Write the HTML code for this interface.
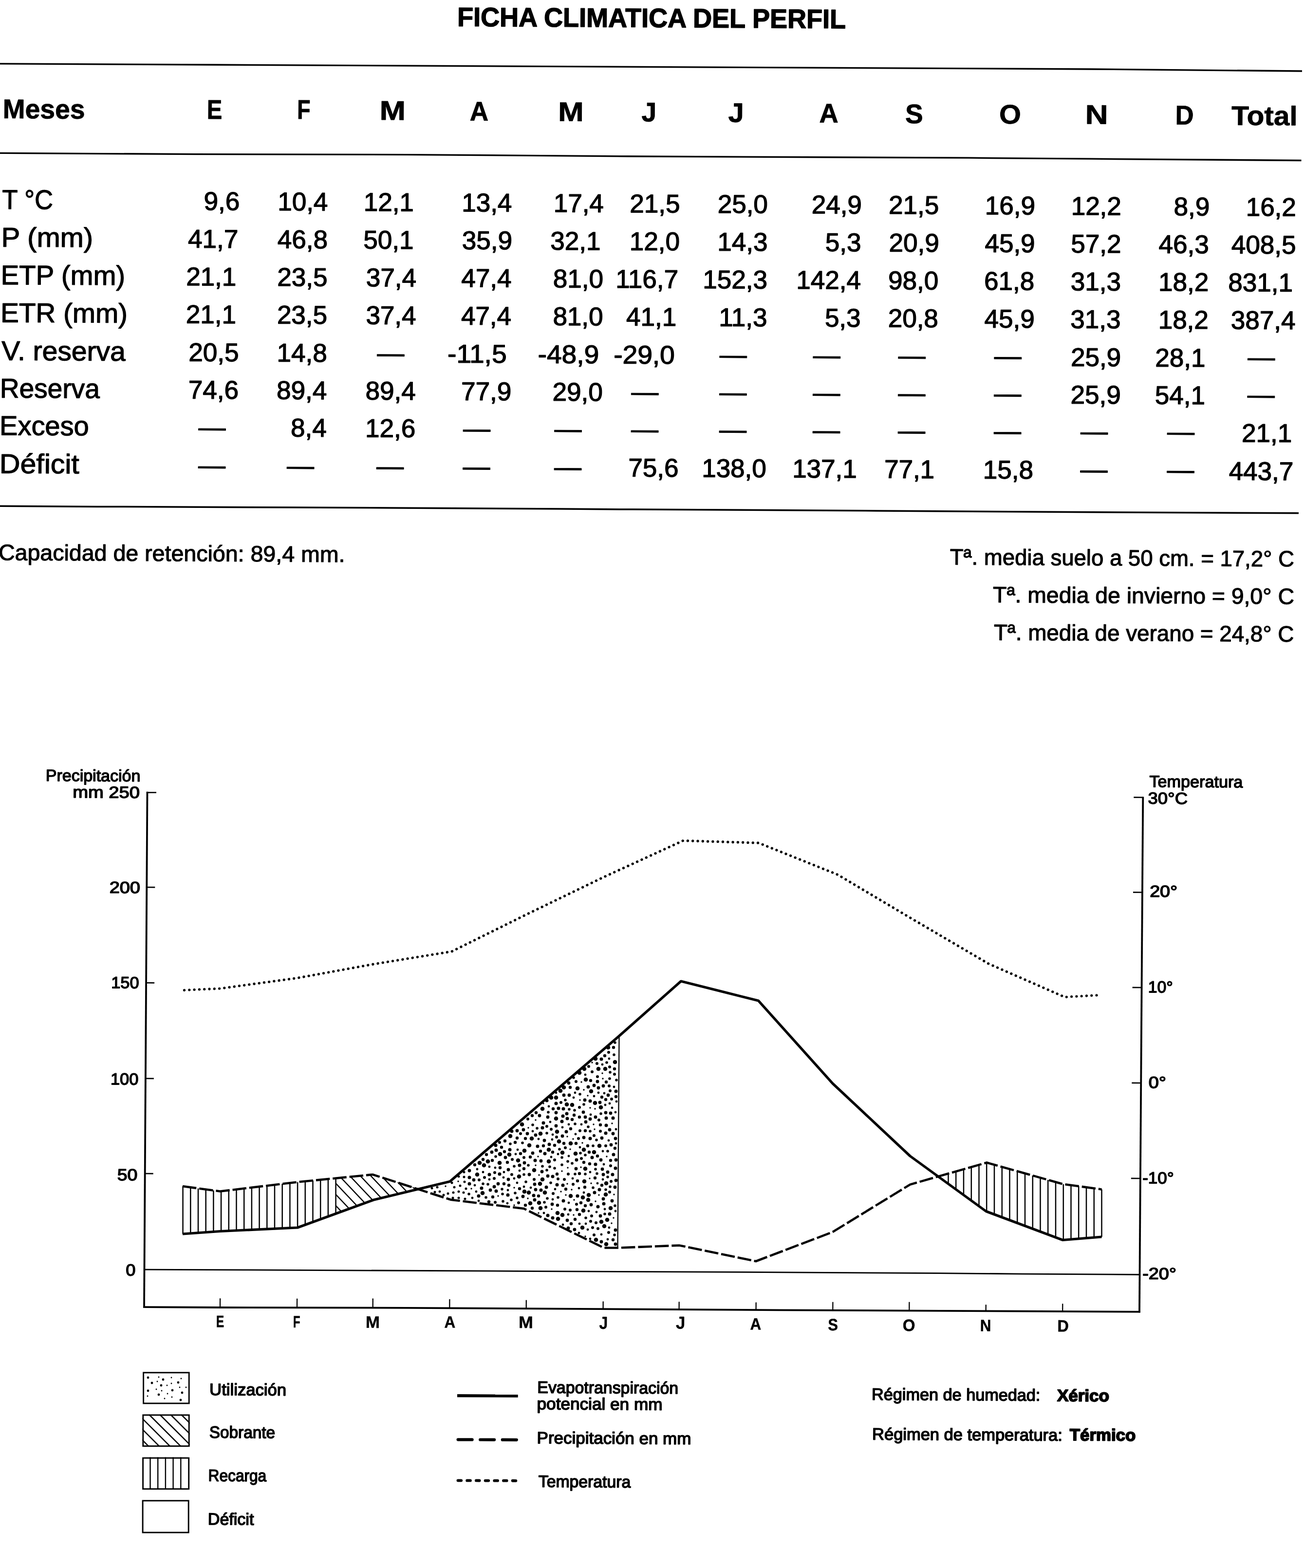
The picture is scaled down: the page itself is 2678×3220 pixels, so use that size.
<!DOCTYPE html>
<html lang="es">
<head>
<meta charset="utf-8">
<title>Ficha climática del perfil</title>
<style>
html,body{margin:0;padding:0;background:#fff;}
body{width:2678px;height:3220px;overflow:hidden;}
svg{display:block;}
text{font-family:"Liberation Sans", sans-serif;fill:#000;white-space:pre;}
.ink{stroke:#000;}
</style>
</head>
<body>
<svg width="2678" height="3220" viewBox="0 0 2678 3220">
<rect width="2678" height="3220" fill="#fff"/>
<g class="ink">
<polyline points="-2.0,130.8 437.0,133.0 2241.0,142.0 2674.0,146.0" stroke-width="3.3" fill="none"/>
<polyline points="-2.0,314.3 400.0,316.6 837.0,317.6 1290.0,321.0 1990.0,324.2 2241.0,326.2 2672.5,329.5" stroke-width="3.3" fill="none"/>
<polyline points="-2.0,1039.2 200.0,1040.4 600.0,1042.0 800.0,1042.9 1150.0,1045.0 1300.0,1046.1 1800.0,1048.9 2241.0,1051.8 2667.0,1053.8" stroke-width="3.5" fill="none"/>
<line x1="302.5" y1="1625.8" x2="296.0" y2="2686.0" stroke-width="3.8"/>
<line x1="301.5" y1="1627.5" x2="321.0" y2="1627.5" stroke-width="2.6"/>
<line x1="301.3" y1="1822.0" x2="318.3" y2="1822.1" stroke-width="2.6"/>
<line x1="300.1" y1="2018.3" x2="317.1" y2="2018.4" stroke-width="2.6"/>
<line x1="298.9" y1="2214.8" x2="315.9" y2="2214.9" stroke-width="2.6"/>
<line x1="297.7" y1="2410.0" x2="314.7" y2="2410.1" stroke-width="2.6"/>
<polyline points="296.0,2607.2 500.0,2607.8 1100.0,2610.6 1400.0,2611.8 1924.0,2614.6 2100.0,2616.1 2340.0,2617.5" stroke-width="2.8" fill="none"/>
<polyline points="294.3,2684.2 452.0,2685.0 837.0,2685.8 1600.0,2690.3 2341.8,2693.8" stroke-width="3.8" fill="none"/>
<line x1="2347.3" y1="1636.2" x2="2340.0" y2="2695.6" stroke-width="3.8"/>
<line x1="2328.3" y1="1637.4" x2="2347.3" y2="1637.5" stroke-width="2.6"/>
<line x1="2327.0" y1="1832.4" x2="2346.0" y2="1832.5" stroke-width="2.6"/>
<line x1="2325.6" y1="2027.9" x2="2344.6" y2="2028.0" stroke-width="2.6"/>
<line x1="2324.3" y1="2223.9" x2="2343.3" y2="2224.0" stroke-width="2.6"/>
<line x1="2322.9" y1="2419.9" x2="2341.9" y2="2420.0" stroke-width="2.6"/>
<line x1="452.1" y1="2666.3" x2="452.0" y2="2685.0" stroke-width="2.3"/>
<line x1="610.1" y1="2666.8" x2="610.0" y2="2685.3" stroke-width="2.3"/>
<line x1="765.8" y1="2666.5" x2="765.7" y2="2685.7" stroke-width="2.3"/>
<line x1="923.4" y1="2668.0" x2="923.3" y2="2686.3" stroke-width="2.3"/>
<line x1="1080.8" y1="2669.7" x2="1080.7" y2="2687.2" stroke-width="2.3"/>
<line x1="1238.7" y1="2672.5" x2="1238.6" y2="2688.2" stroke-width="2.3"/>
<line x1="1394.7" y1="2673.3" x2="1394.6" y2="2689.1" stroke-width="2.3"/>
<line x1="1552.7" y1="2674.6" x2="1552.6" y2="2690.0" stroke-width="2.3"/>
<line x1="1710.4" y1="2673.8" x2="1710.3" y2="2690.8" stroke-width="2.3"/>
<line x1="1867.4" y1="2673.8" x2="1867.3" y2="2691.6" stroke-width="2.3"/>
<line x1="2024.8" y1="2679.2" x2="2024.7" y2="2692.3" stroke-width="2.3"/>
<line x1="2182.3" y1="2677.2" x2="2182.2" y2="2693.1" stroke-width="2.3"/>
<path d="M375.6 2436.1V2534.0M391.3 2438.2V2532.8M407.0 2440.4V2531.7M422.7 2442.5V2530.6M438.4 2444.6V2529.5M454.1 2446.2V2528.4M469.8 2444.4V2527.7M485.5 2442.5V2526.9M501.2 2440.6V2526.2M516.9 2438.7V2525.4M532.6 2436.8V2524.7M548.3 2434.9V2524.0M564.0 2433.0V2523.2M579.7 2431.1V2522.5M595.4 2429.3V2521.7M611.1 2427.4V2521.0M626.8 2425.8V2515.2M642.5 2424.3V2509.5M658.2 2422.7V2503.8M673.9 2421.1V2498.1M689.6 2419.6V2492.4" stroke-width="2.5" fill="none"/>
<path d="M1947.5 2410.1V2431.1M1963.2 2405.6V2442.6M1979.0 2401.1V2454.0M1994.8 2396.6V2465.5M2010.5 2392.1V2477.0M2026.2 2387.6V2488.0M2042.0 2391.9V2493.9M2057.8 2396.3V2499.8M2073.5 2400.8V2505.7M2089.2 2405.2V2511.6M2105.0 2409.6V2517.5M2120.8 2414.1V2523.4M2136.5 2418.5V2529.3M2152.2 2423.0V2535.2M2168.0 2427.4V2541.1M2183.8 2431.7V2546.4M2199.5 2433.8V2545.1M2215.2 2436.0V2543.8M2231.0 2438.2V2542.6M2246.8 2440.3V2541.3M2262.5 2442.5V2540.0" stroke-width="2.5" fill="none"/>
<clipPath id="sob"><polygon points="689.5,2419.6 765.5,2412.0 861.0,2442.0 767.5,2464.0 689.5,2492.4"/></clipPath>
<path clip-path="url(#sob)" d="M577.6 2380l110 116.6M599.2 2380l110 116.6M620.8 2380l110 116.6M642.4 2380l110 116.6M664.0 2380l110 116.6M685.6 2380l110 116.6M707.2 2380l110 116.6M728.8 2380l110 116.6M750.4 2380l110 116.6M772.0 2380l110 116.6M793.6 2380l110 116.6" stroke-width="2.4" fill="none"/>
<path d="M915 2436h0M1191 2259h0M1238 2215h0M1219 2309h0M1199 2238h0M1171 2360h0M968 2441h0M1177 2339h0M1260 2501h0M1230 2454h0M941 2426h0M1194 2222h0M1166 2398h0M1246 2375h0M1214 2430h0M1223 2467h0M1257 2307h0M1084 2461h0M1165 2334h0M1100 2300h0M1056 2439h0M1023 2456h0M1237 2204h0M1174 2443h0M1152 2447h0M1256 2512h0M1162 2454h0M1222 2277h0M1154 2405h0M1107 2413h0M1202 2539h0M1085 2316h0M1165 2431h0M1179 2464h0M1212 2275h0M1106 2491h0M1133 2483h0M1221 2319h0M1207 2250h0M1211 2420h0M1193 2397h0M1100 2393h0M1261 2453h0M1196 2347h0M1105 2375h0M1056 2475h0M1116 2266h0M1178 2495h0M1216 2182h0" stroke-width="3.4" stroke-linecap="round" fill="none"/>
<path d="M1117 2491h0M1130 2304h0M1181 2244h0M1212 2407h0M1257 2275h0M1264 2487h0M1189 2532h0M1250 2342h0M1238 2364h0M1062 2429h0M903 2447h0M1240 2391h0M1132 2376h0M1261 2232h0M1167 2494h0M983 2466h0M1063 2361h0M1076 2437h0M1209 2487h0M1005 2396h0M1227 2430h0M1168 2470h0M1202 2207h0M1168 2374h0M1191 2356h0M1265 2319h0M1156 2515h0M978 2447h0M1220 2251h0M1203 2513h0M1127 2272h0M1155 2315h0M1251 2174h0M1176 2420h0M1235 2535h0M1189 2440h0M1238 2422h0M1190 2513h0M1213 2289h0M1207 2525h0M1241 2245h0M980 2401h0M1264 2284h0M1178 2254h0M1090 2439h0M1199 2449h0M1140 2442h0M1242 2483h0M1067 2404h0M1146 2370h0M1134 2340h0M992 2407h0M1212 2544h0M1225 2489h0M1059 2370h0M1035 2407h0M1017 2398h0M1194 2309h0M970 2460h0M1243 2269h0M1248 2545h0M1266 2262h0M1106 2339h0M1251 2521h0M1034 2418h0M1042 2471h0M975 2434h0M1168 2309h0M1182 2329h0M1237 2186h0M1229 2244h0M1043 2444h0M1135 2463h0M1094 2323h0M1005 2422h0M1252 2266h0M1056 2420h0M1265 2348h0M1135 2330h0M1142 2244h0" stroke-width="4.8" stroke-linecap="round" fill="none"/>
<path d="M954 2427h0M920 2451h0M957 2441h0M942 2447h0M931 2449h0M887 2440h0M955 2462h0M933 2438h0M953 2407h0M898 2438h0M942 2460h0M942 2416h0M945 2435h0M928 2429h0M911 2454h0M930 2460h0M952 2449h0M893 2448h0M953 2417h0" stroke-width="5.0" stroke-linecap="round" fill="none"/>
<path d="M1056 2395h0M1129 2396h0M1261 2166h0M1131 2429h0M1002 2432h0M1244 2443h0M1080 2427h0M1202 2372h0M1263 2141h0M1248 2364h0M1033 2467h0M1161 2259h0M1154 2392h0M1124 2461h0M1218 2439h0M1181 2308h0M1073 2347h0M1154 2377h0M1062 2460h0M1126 2284h0M998 2459h0M1094 2310h0M1203 2501h0M1252 2215h0M1050 2464h0M1262 2536h0M963 2452h0M1139 2399h0M1146 2459h0M1149 2360h0M1018 2375h0M1031 2442h0M1123 2327h0M1048 2349h0M1058 2450h0M1218 2353h0M1202 2411h0M1180 2280h0M1114 2395h0M1181 2411h0M1192 2368h0M1085 2393h0M1266 2218h0M1175 2389h0M1191 2247h0M1212 2323h0M1103 2317h0M1242 2493h0M1226 2410h0M1199 2268h0M1178 2213h0M1225 2341h0M1032 2452h0M1076 2412h0M1223 2401h0M1166 2385h0M1253 2202h0M1263 2476h0M1253 2437h0M1234 2287h0M1123 2403h0M1248 2417h0M1246 2182h0M1208 2314h0M992 2431h0M1169 2278h0M1118 2469h0" stroke-width="5.6" stroke-linecap="round" fill="none"/>
<path d="M1152 2264h0M984 2423h0M1132 2319h0M995 2418h0M1121 2479h0M1255 2426h0M1051 2412h0M1076 2377h0M1227 2211h0M1226 2184h0M1256 2257h0M1252 2448h0M1191 2322h0M1139 2382h0M1167 2411h0M1233 2323h0M1224 2511h0M1184 2473h0M1250 2531h0M1017 2469h0M1084 2298h0M1015 2420h0M1097 2422h0M1016 2408h0M1146 2421h0M1244 2353h0M1183 2221h0M1159 2422h0M1250 2161h0M1065 2470h0M1220 2536h0M1262 2206h0M1171 2485h0M1190 2274h0M1251 2230h0M1254 2394h0M1228 2523h0M1216 2201h0M1252 2191h0M1136 2451h0M1069 2328h0M1217 2521h0M1215 2497h0M1188 2338h0M1209 2190h0M1160 2483h0M1213 2508h0M1220 2332h0M1177 2432h0M1161 2357h0M1253 2240h0M1026 2346h0M1194 2379h0M1052 2381h0M1230 2300h0M1143 2335h0M1123 2313h0" stroke-width="6.0" stroke-linecap="round" fill="none"/>
<path d="M1207 2353h0M1199 2387h0M975 2392h0M1172 2318h0M1037 2343h0M1079 2338h0M1058 2346h0M1042 2387h0M1173 2513h0M1260 2151h0M1190 2294h0M1254 2383h0M1106 2456h0M1171 2233h0M1135 2366h0M1211 2390h0M1035 2431h0M1116 2353h0M1222 2419h0M1093 2481h0M1179 2290h0M1227 2374h0M1145 2475h0M1190 2494h0M1158 2348h0M1202 2476h0M1242 2168h0M1213 2219h0M992 2381h0M1062 2337h0M1262 2195h0M1236 2253h0M1110 2364h0M1030 2356h0M1263 2358h0M1139 2352h0M1183 2348h0M1193 2470h0M1089 2376h0M1011 2383h0M1186 2425h0M1202 2322h0M1079 2475h0M1045 2434h0M1181 2504h0M1076 2400h0M1101 2285h0M999 2371h0M1233 2310h0M1012 2458h0M1093 2291h0M1201 2438h0M1190 2410h0M1185 2484h0M1244 2258h0M1236 2434h0M1144 2411h0M1136 2277h0M1027 2398h0M1162 2442h0M1004 2468h0M1036 2365h0M1245 2222h0M1259 2546h0M1067 2441h0M1210 2366h0M1265 2252h0M1069 2369h0M1175 2299h0" stroke-width="6.4" stroke-linecap="round" fill="none"/>
<path d="M1074 2457h0M1223 2294h0M1118 2342h0M1044 2402h0M1087 2412h0M1264 2555h0M1237 2401h0M1232 2264h0M1198 2284h0M1077 2388h0M1100 2443h0M1183 2400h0M1264 2338h0M1007 2444h0M1229 2234h0M1098 2432h0M1142 2285h0M1235 2550h0M1134 2473h0M1180 2525h0M1244 2285h0M1125 2294h0M964 2404h0M973 2423h0M1111 2384h0M1199 2336h0M1094 2368h0M1062 2322h0M1203 2304h0M1083 2328h0M1239 2462h0M1257 2466h0M1184 2382h0M1263 2438h0M1233 2497h0M1165 2506h0M1264 2526h0M1236 2337h0M1155 2333h0M1044 2422h0M1113 2406h0M1239 2230h0M1142 2312h0M1248 2407h0M1220 2229h0M1125 2415h0M1252 2320h0M1100 2331h0M1010 2366h0M1265 2424h0M1201 2259h0M1038 2377h0M1023 2431h0M1168 2224h0M1234 2382h0M1169 2249h0M1265 2382h0M1227 2221h0M1214 2474h0M1259 2328h0M1075 2320h0M1239 2412h0M1158 2249h0M1255 2351h0M1108 2291h0M1212 2298h0M1202 2294h0M1249 2249h0M1254 2286h0" stroke-width="6.8" stroke-linecap="round" fill="none"/>
<path d="M1015 2437h0M1119 2369h0M1223 2391h0M1165 2297h0M1216 2377h0M1244 2327h0M1156 2434h0M1228 2478h0M1043 2454h0M1164 2287h0M1258 2412h0M1135 2501h0M1142 2266h0M1212 2338h0M1114 2316h0M1128 2350h0M1154 2303h0M1116 2306h0M1051 2323h0M989 2440h0M964 2418h0M1047 2361h0M1260 2371h0M1245 2296h0M1104 2354h0M1123 2260h0M1005 2412h0M1026 2411h0M1240 2472h0M964 2431h0M1245 2311h0M1157 2466h0M1018 2352h0M1231 2443h0M1265 2241h0M1099 2383h0M1208 2232h0M1259 2296h0M1157 2277h0M1122 2438h0M1186 2456h0M1098 2464h0M1221 2449h0M1156 2292h0M1167 2522h0M1212 2261h0M1096 2455h0M1264 2399h0M1125 2496h0M1144 2433h0M1163 2324h0M1235 2175h0M1067 2393h0M1135 2416h0M1019 2362h0M1252 2493h0M1147 2276h0M1111 2444h0M1019 2446h0M983 2456h0" stroke-width="7.0" stroke-linecap="round" fill="none"/>
<path d="M1046 2371h0M1066 2416h0M1263 2181h0M1245 2430h0M1148 2344h0M1155 2495h0M1231 2353h0M1196 2521h0M1158 2233h0M1087 2352h0M1175 2269h0M1243 2195h0M1092 2338h0M1109 2431h0M1234 2274h0M1241 2518h0M1027 2370h0M1172 2456h0M1245 2555h0M994 2393h0M1145 2491h0M1151 2240h0M1209 2454h0M1064 2383h0M1200 2195h0M1247 2505h0M1114 2277h0M1144 2324h0M1089 2471h0M1072 2309h0M1077 2363h0M1097 2403h0M1048 2333h0M1110 2328h0M1190 2203h0M1200 2426h0M1026 2388h0M1220 2366h0M1110 2481h0M1202 2400h0M1208 2464h0M980 2412h0M1214 2241h0M1142 2297h0M1119 2449h0M1127 2385h0M1235 2509h0M1146 2503h0M1244 2453h0M1086 2449h0M991 2450h0M1197 2459h0M1254 2481h0M1107 2470h0M1229 2195h0M1186 2235h0M1164 2268h0M1132 2254h0M1155 2367h0M985 2388h0M1142 2254h0M1172 2348h0M1223 2174h0M1127 2361h0M1114 2422h0M1222 2265h0M1077 2447h0M1224 2546h0M1182 2369h0M1198 2486h0M1199 2361h0M1249 2151h0M1203 2217h0M1002 2385h0" stroke-width="8.6" stroke-linecap="round" fill="none"/>
<line x1="1271.5" y1="2127.5" x2="1268.5" y2="2562.5" stroke-width="2.3"/>
<polyline points="375.0,2534.0 452.0,2528.5 611.0,2521.0 767.5,2464.0 924.0,2426.3 1271.5,2127.5 1398.5,2015.0 1557.5,2055.0 1710.0,2225.0 1869.0,2374.0 2025.0,2487.5 2182.5,2546.5 2262.5,2540.0" stroke-width="5.2" fill="none" stroke-linejoin="round"/>
<polyline points="375.0,2436.0 452.0,2446.5 610.0,2427.5 765.5,2412.0 926.0,2463.8 1076.0,2482.0 1240.0,2562.5 1268.5,2562.5 1395.0,2557.5 1552.5,2590.0 1710.0,2530.0 1869.0,2432.5 2026.5,2387.5 2182.5,2431.5 2262.5,2442.5" stroke-width="4.6" fill="none" stroke-dasharray="28.5 6"/>
<polyline points="378.5,2033.3 452.0,2030.0 610.0,2008.5 767.0,1980.0 927.5,1954.0 1081.0,1878.0 1238.0,1802.0 1403.0,1726.3 1558.0,1731.0 1720.0,1796.0 1874.0,1887.5 2030.0,1979.0 2186.5,2047.5 2258.0,2043.5" stroke-width="5.3" fill="none" stroke-dasharray="0.1 10.2" stroke-linecap="round"/>
<rect x="294.6" y="2818.8" width="93.6" height="63.1" stroke-width="2.9" fill="none"/>
<rect x="293.8" y="2905.9" width="94.4" height="63.8" stroke-width="2.9" fill="none"/>
<rect x="293.6" y="2994.1" width="94.1" height="63.6" stroke-width="2.9" fill="none"/>
<rect x="293.1" y="3081.8" width="94.1" height="65.3" stroke-width="2.9" fill="none"/>
<path d="M321 2853h0M332 2856h0M352 2829h0M303 2867h0M323 2837h0M382 2849h0M369 2849h0M353 2869h0M344 2862h0M326 2828h0M338 2872h0M372 2831h0M352 2841h0M343 2845h0" stroke-width="2.8" stroke-linecap="round" fill="none"/>
<path d="M371 2875h0M335 2833h0M326 2864h0M354 2855h0M304 2856h0M304 2829h0M312 2840h0M366 2839h0M374 2860h0M331 2845h0" stroke-width="4.8" stroke-linecap="round" fill="none"/>
<clipPath id="b2"><rect x="292.5" y="2904.6" width="97" height="66.4"/></clipPath>
<path clip-path="url(#b2)" d="M218.2 2905l67 67M240.2 2905l67 67M262.2 2905l67 67M284.2 2905l67 67M306.2 2905l67 67M328.2 2905l67 67M350.2 2905l67 67M372.2 2905l67 67M394.2 2905l67 67" stroke-width="2.5" fill="none"/>
<path d="M308.5 2992.5V3058.5M324.2 2992.5V3058.5M339.9 2992.5V3058.5M355.6 2992.5V3058.5M371.3 2992.5V3058.5" stroke-width="2.4" fill="none"/>
<line x1="939.0" y1="2866.2" x2="1063.7" y2="2866.7" stroke-width="6.2"/>
<line x1="940.6" y1="2956.3" x2="1060.8" y2="2956.8" stroke-width="6.2" stroke-dasharray="29 16.6" stroke-linecap="round"/>
<line x1="940.5" y1="3040.3" x2="1059.4" y2="3040.8" stroke-width="5.8" stroke-dasharray="6.7 12" stroke-linecap="round"/>
</g>
<g transform="rotate(0.32)">
<g id="t-title" font-size="55" font-weight="bold" stroke="#000" stroke-width="1.4" stroke-linejoin="round">
<text transform="translate(939.3 48.4) scale(0.982 1)">FICHA CLIMATICA DEL PERFIL</text>
</g>
<g id="t-head" font-size="55.5" font-weight="bold" stroke="#000" stroke-width="0.8" stroke-linejoin="round">
<text transform="translate(6.8 242.8) scale(0.996 1)">Meses</text>
<text transform="translate(426.2 241.6) scale(0.850 1)">E</text>
<text transform="translate(611.3 240.6) scale(0.810 1)">F</text>
<text transform="translate(780.9 241.7) scale(1.158 1)">M</text>
<text transform="translate(966.0 242.2) scale(0.958 1)">A</text>
<text transform="translate(1147.4 242.1) scale(1.142 1)">M</text>
<text transform="translate(1318.8 241.9) scale(0.989 1)">J</text>
<text transform="translate(1496.8 242.1) scale(1.043 1)">J</text>
<text transform="translate(1683.8 242.2) scale(0.979 1)">A</text>
<text transform="translate(1860.4 242.7) scale(0.988 1)">S</text>
<text transform="translate(2053.4 242.4) scale(1.038 1)">O</text>
<text transform="translate(2229.9 241.9) scale(1.174 1)">N</text>
<text transform="translate(2414.9 242.1) scale(0.949 1)">D</text>
<text transform="translate(2530.3 242.5) scale(1.057 1)">Total</text>
</g>
<g id="t-rowlabel" font-size="56" stroke="#000" stroke-width="1.2" stroke-linejoin="round">
<text transform="translate(6.6 428.9) scale(0.938 1)">T °C</text>
<text transform="translate(5.3 506.4) scale(1.034 1)">P (mm)</text>
<text transform="translate(4.8 583.9) scale(1.006 1)">ETP (mm)</text>
<text transform="translate(4.7 661.4) scale(1.011 1)">ETR (mm)</text>
<text transform="translate(7.2 739.4) scale(1.019 1)">V. reserva</text>
<text transform="translate(4.2 816.4) scale(0.984 1)">Reserva</text>
<text transform="translate(4.1 893.2) scale(0.999 1)">Exceso</text>
<text transform="translate(4.3 971.4) scale(1.053 1)">Déficit</text>
</g>
<g id="t-cell" font-size="53" stroke="#000" stroke-width="1.3" stroke-linejoin="round">
<text transform="translate(420.9 428.9) scale(1.000 1)">9,6</text>
<text transform="translate(572.6 428.9) scale(1.000 1)">10,4</text>
<text transform="translate(749.1 428.9) scale(1.000 1)">12,1</text>
<text transform="translate(950.6 428.9) scale(1.000 1)">13,4</text>
<text transform="translate(1139.1 428.9) scale(1.000 1)">17,4</text>
<text transform="translate(1295.7 428.9) scale(1.000 1)">21,5</text>
<text transform="translate(1476.1 428.9) scale(1.000 1)">25,0</text>
<text transform="translate(1669.1 428.9) scale(1.000 1)">24,9</text>
<text transform="translate(1827.4 428.9) scale(1.000 1)">21,5</text>
<text transform="translate(2025.3 428.9) scale(1.000 1)">16,9</text>
<text transform="translate(2202.1 428.9) scale(1.000 1)">12,2</text>
<text transform="translate(2412.9 428.9) scale(1.000 1)">8,9</text>
<text transform="translate(2561.1 428.9) scale(1.000 1)">16,2</text>
<text transform="translate(388.9 506.4) scale(1.000 1)">41,7</text>
<text transform="translate(572.6 506.4) scale(1.000 1)">46,8</text>
<text transform="translate(749.1 506.4) scale(1.000 1)">50,1</text>
<text transform="translate(951.6 506.4) scale(1.000 1)">35,9</text>
<text transform="translate(1133.1 506.4) scale(1.000 1)">32,1</text>
<text transform="translate(1295.7 506.4) scale(1.000 1)">12,0</text>
<text transform="translate(1476.1 506.4) scale(1.000 1)">14,3</text>
<text transform="translate(1697.6 506.4) scale(1.000 1)">5,3</text>
<text transform="translate(1828.4 506.4) scale(1.000 1)">20,9</text>
<text transform="translate(2025.3 506.4) scale(1.000 1)">45,9</text>
<text transform="translate(2202.1 506.4) scale(1.000 1)">57,2</text>
<text transform="translate(2382.4 506.4) scale(1.000 1)">46,3</text>
<text transform="translate(2531.6 506.4) scale(1.000 1)">408,5</text>
<text transform="translate(385.4 583.9) scale(1.000 1)">21,1</text>
<text transform="translate(572.6 583.9) scale(1.000 1)">23,5</text>
<text transform="translate(755.1 583.9) scale(1.000 1)">37,4</text>
<text transform="translate(950.6 583.9) scale(1.000 1)">47,4</text>
<text transform="translate(1139.1 583.9) scale(1.000 1)">81,0</text>
<text transform="translate(1267.6 583.9) scale(1.000 1)">116,7</text>
<text transform="translate(1446.6 583.9) scale(1.000 1)">152,3</text>
<text transform="translate(1638.6 583.9) scale(1.000 1)">142,4</text>
<text transform="translate(1827.4 583.9) scale(1.000 1)">98,0</text>
<text transform="translate(2024.3 583.9) scale(1.000 1)">61,8</text>
<text transform="translate(2202.1 583.9) scale(1.000 1)">31,3</text>
<text transform="translate(2382.4 583.9) scale(1.000 1)">18,2</text>
<text transform="translate(2525.6 583.9) scale(1.000 1)">831,1</text>
<text transform="translate(385.4 661.4) scale(1.000 1)">21,1</text>
<text transform="translate(572.6 661.4) scale(1.000 1)">23,5</text>
<text transform="translate(755.1 661.4) scale(1.000 1)">37,4</text>
<text transform="translate(950.6 661.4) scale(1.000 1)">47,4</text>
<text transform="translate(1139.1 661.4) scale(1.000 1)">81,0</text>
<text transform="translate(1289.7 661.4) scale(1.000 1)">41,1</text>
<text transform="translate(1480.0 661.4) scale(1.000 1)">11,3</text>
<text transform="translate(1697.6 661.4) scale(1.000 1)">5,3</text>
<text transform="translate(1827.4 661.4) scale(1.000 1)">20,8</text>
<text transform="translate(2025.3 661.4) scale(1.000 1)">45,9</text>
<text transform="translate(2202.1 661.4) scale(1.000 1)">31,3</text>
<text transform="translate(2382.4 661.4) scale(1.000 1)">18,2</text>
<text transform="translate(2531.6 661.4) scale(1.000 1)">387,4</text>
<text transform="translate(391.4 739.3) scale(1.000 1)">20,5</text>
<text transform="translate(572.6 739.4) scale(1.000 1)">14,8</text>
<text transform="translate(923.2 739.4) scale(1.040 1)">-11,5</text>
<text transform="translate(1108.7 739.4) scale(1.040 1)">-48,9</text>
<text transform="translate(1264.3 739.4) scale(1.040 1)">-29,0</text>
<text transform="translate(2203.1 739.4) scale(1.000 1)">25,9</text>
<text transform="translate(2376.4 739.4) scale(1.000 1)">28,1</text>
<text transform="translate(391.4 816.3) scale(1.000 1)">74,6</text>
<text transform="translate(572.6 816.4) scale(1.000 1)">89,4</text>
<text transform="translate(755.1 816.4) scale(1.000 1)">89,4</text>
<text transform="translate(951.6 816.4) scale(1.000 1)">77,9</text>
<text transform="translate(1139.1 816.4) scale(1.000 1)">29,0</text>
<text transform="translate(2203.1 816.4) scale(1.000 1)">25,9</text>
<text transform="translate(2376.4 816.4) scale(1.000 1)">54,1</text>
<text transform="translate(602.0 893.1) scale(1.000 1)">8,4</text>
<text transform="translate(755.1 893.2) scale(1.000 1)">12,6</text>
<text transform="translate(2555.1 893.2) scale(1.000 1)">21,1</text>
<text transform="translate(1295.7 971.4) scale(1.000 1)">75,6</text>
<text transform="translate(1446.6 971.4) scale(1.000 1)">138,0</text>
<text transform="translate(1632.6 971.4) scale(1.000 1)">137,1</text>
<text transform="translate(1821.4 971.4) scale(1.000 1)">77,1</text>
<text transform="translate(2024.3 971.4) scale(1.000 1)">15,8</text>
<text transform="translate(2529.1 971.4) scale(1.000 1)">443,7</text>
</g>
<g id="t-dash" font-size="56" stroke="#000" stroke-width="0.9" stroke-linejoin="round">
<text transform="translate(778.4 739.4) scale(1.000 1)">—</text>
<text transform="translate(1481.9 738.8) scale(1.000 1)">—</text>
<text transform="translate(1673.9 738.6) scale(1.000 1)">—</text>
<text transform="translate(1848.9 738.4) scale(1.000 1)">—</text>
<text transform="translate(2045.9 738.2) scale(1.000 1)">—</text>
<text transform="translate(2566.4 737.7) scale(1.000 1)">—</text>
<text transform="translate(1300.9 815.9) scale(1.000 1)">—</text>
<text transform="translate(1481.9 815.8) scale(1.000 1)">—</text>
<text transform="translate(1673.9 815.6) scale(1.000 1)">—</text>
<text transform="translate(1848.9 815.4) scale(1.000 1)">—</text>
<text transform="translate(2045.9 815.2) scale(1.000 1)">—</text>
<text transform="translate(2566.4 814.7) scale(1.000 1)">—</text>
<text transform="translate(412.4 893.6) scale(1.000 1)">—</text>
<text transform="translate(955.9 893.1) scale(1.000 1)">—</text>
<text transform="translate(1143.4 892.9) scale(1.000 1)">—</text>
<text transform="translate(1300.9 892.7) scale(1.000 1)">—</text>
<text transform="translate(1481.9 892.6) scale(1.000 1)">—</text>
<text transform="translate(1673.9 892.4) scale(1.000 1)">—</text>
<text transform="translate(1848.9 892.2) scale(1.000 1)">—</text>
<text transform="translate(2045.9 892.0) scale(1.000 1)">—</text>
<text transform="translate(2223.9 891.8) scale(1.000 1)">—</text>
<text transform="translate(2401.9 891.6) scale(1.000 1)">—</text>
<text transform="translate(412.4 971.8) scale(1.000 1)">—</text>
<text transform="translate(594.4 971.6) scale(1.000 1)">—</text>
<text transform="translate(778.4 971.4) scale(1.000 1)">—</text>
<text transform="translate(955.9 971.3) scale(1.000 1)">—</text>
<text transform="translate(1143.4 971.1) scale(1.000 1)">—</text>
<text transform="translate(2223.9 970.0) scale(1.000 1)">—</text>
<text transform="translate(2401.9 969.8) scale(1.000 1)">—</text>
</g>
<g id="t-note" font-size="46" stroke="#000" stroke-width="1.1" stroke-linejoin="round">
<text transform="translate(3.4 1150.2) scale(1.012 1)">Capacidad de retención: 89,4 mm.</text>
<text transform="translate(1957.2 1148.6) scale(0.990 1)">Tª. media suelo a 50 cm. = 17,2° C</text>
<text transform="translate(2046.0 1225.7) scale(1.007 1)">Tª. media de invierno = 9,0° C</text>
<text transform="translate(2048.2 1303.0) scale(0.995 1)">Tª. media de verano = 24,8° C</text>
</g>
<g id="t-month" font-size="34" font-weight="bold" stroke="#000" stroke-width="0.5" stroke-linejoin="round">
<text transform="translate(459.0 2722.7) scale(0.725 1)">E</text>
<text transform="translate(617.0 2722.6) scale(0.711 1)">F</text>
<text transform="translate(765.9 2722.5) scale(1.032 1)">M</text>
<text transform="translate(927.6 2721.3) scale(0.925 1)">A</text>
<text transform="translate(1080.1 2721.1) scale(1.052 1)">M</text>
<text transform="translate(1555.7 2721.8) scale(0.925 1)">A</text>
<text transform="translate(1715.5 2722.4) scale(0.914 1)">S</text>
<text transform="translate(1869.0 2722.8) scale(0.972 1)">O</text>
<text transform="translate(2028.0 2722.5) scale(0.919 1)">N</text>
<text transform="translate(2186.7 2722.4) scale(0.950 1)">D</text>
</g>
<g id="t-monthj" font-size="34" stroke="#000" stroke-width="1.9" stroke-linejoin="round">
<text transform="translate(1246.5 2721.3) scale(0.973 1)">J</text>
<text transform="translate(1403.9 2720.3) scale(1.060 1)">J</text>
</g>
<g id="t-axis" font-size="33.5" stroke="#000" stroke-width="1.5" stroke-linejoin="round">
<text transform="translate(102.7 1603.2) scale(1.015 1)">Precipitación</text>
<text transform="translate(158.4 1637.2) scale(1.138 1)">mm 250</text>
<text transform="translate(234.9 1832.5) scale(1.133 1)">200</text>
<text transform="translate(239.6 2027.9) scale(1.023 1)">150</text>
<text transform="translate(239.4 2225.9) scale(1.025 1)">100</text>
<text transform="translate(254.4 2422.5) scale(1.114 1)">50</text>
<text transform="translate(272.9 2618.1) scale(1.076 1)">0</text>
<text transform="translate(2369.5 1603.0) scale(1.020 1)">Temperatura</text>
<text transform="translate(2366.8 1637.4) scale(1.087 1)">30°C</text>
<text transform="translate(2371.4 1828.5) scale(1.125 1)">20°</text>
<text transform="translate(2369.1 2025.0) scale(1.005 1)">10°</text>
<text transform="translate(2371.1 2221.0) scale(1.131 1)">0°</text>
<text transform="translate(2359.7 2417.1) scale(1.043 1)">-10°</text>
<text transform="translate(2360.8 2613.6) scale(1.128 1)">-20°</text>
</g>
<g id="t-legend" font-size="34" stroke="#000" stroke-width="1.6" stroke-linejoin="round">
<text transform="translate(446.1 2862.5) scale(1.020 1)">Utilización</text>
<text transform="translate(446.3 2950.2) scale(0.980 1)">Sobrante</text>
<text transform="translate(444.6 3039.1) scale(0.931 1)">Recarga</text>
<text transform="translate(444.3 3128.6) scale(1.001 1)">Déficit</text>
<text transform="translate(1119.3 2854.3) scale(0.996 1)">Evapotranspiración</text>
<text transform="translate(1118.7 2888.0) scale(1.034 1)">potencial en mm</text>
<text transform="translate(1119.1 2958.0) scale(1.029 1)">Precipitación en mm</text>
<text transform="translate(1122.8 3047.5) scale(0.993 1)">Temperatura</text>
<text transform="translate(1806.1 2864.7) scale(1.007 1)">Régimen de humedad:</text>
<text transform="translate(1807.6 2946.5) scale(1.014 1)">Régimen de temperatura:</text>
</g>
<g id="t-legendb" font-size="34" font-weight="bold" stroke="#000" stroke-width="2.0" stroke-linejoin="round">
<text transform="translate(2187.0 2865.2) scale(1.029 1)">Xérico</text>
<text transform="translate(2213.3 2945.7) scale(1.024 1)">Térmico</text>
</g>
</g>
</svg>
</body>
</html>
